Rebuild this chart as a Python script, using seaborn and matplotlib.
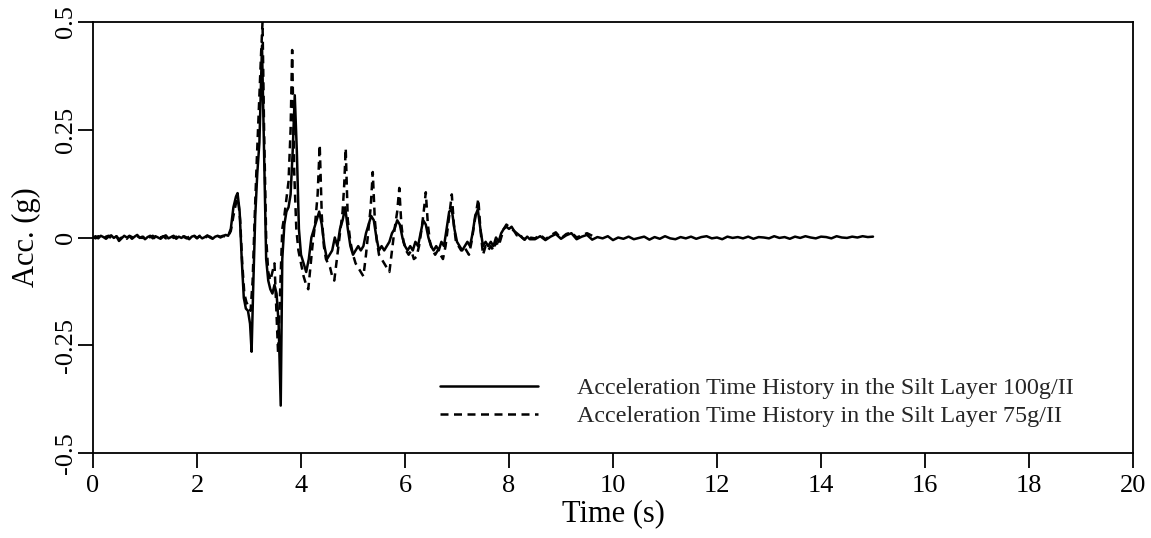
import numpy as np
import pandas as pd
import matplotlib
matplotlib.use("Agg")
import matplotlib.pyplot as plt
import seaborn as sns

# ---------------- data ----------------
series_labels = ["Acceleration Time History in the Silt Layer 100g/II",
                 "Acceleration Time History in the Silt Layer 75g/II"]
x_ticks = [0, 2, 4, 6, 8, 10, 12, 14, 16, 18, 20]
y_ticks = [-0.5, -0.25, 0, 0.25, 0.5]
y_tick_labels = ["-0.5", "-0.25", "0", "0.25", "0.5"]

# pre-event record, sampled every 0.05 s from 0.00 to 2.55 s
pre_t = np.round(np.arange(0, 2.56, 0.05), 2)
pre_solid = [0.000, 0.003, -0.002, 0.004, 0.001, -0.003, 0.002, 0.005, -0.001, 0.003,
             -0.008, -0.002, 0.004, 0.000, 0.003, -0.003, 0.002, 0.006, -0.001, 0.002,
             -0.004, 0.001, 0.004, -0.002, 0.003, 0.000, -0.003, 0.002, 0.005, -0.002,
             0.001, 0.004, -0.003, 0.002, -0.001, 0.003, 0.000, -0.004, 0.002, 0.004,
             -0.001, 0.003, -0.002, 0.001, 0.005, 0.000, -0.003, 0.002, 0.004, 0.000,
             0.003, 0.006]
pre_dash = [0.001, -0.002, 0.003, 0.000, -0.003, 0.002, 0.004, -0.002, 0.001, 0.003,
            -0.004, 0.000, 0.002, -0.003, 0.004, 0.001, -0.002, 0.003, 0.000, -0.001,
            0.003, -0.002, 0.001, 0.004, -0.003, 0.002, 0.000, 0.003, -0.002, 0.001,
            0.004, -0.001, 0.002, -0.003, 0.003, 0.001, -0.002, 0.002, 0.000, 0.003,
            -0.002, 0.004, 0.001, -0.001, 0.003, 0.002, -0.002, 0.001, 0.003, 0.002,
            0.004, 0.002]

# strong-motion part, 100g/II (solid)
ev_solid_t = [2.60, 2.65, 2.70, 2.75, 2.78, 2.82, 2.86, 2.90, 2.94, 2.98,
              3.02, 3.05, 3.08, 3.12, 3.16, 3.20, 3.25, 3.29, 3.33, 3.37,
              3.41, 3.45, 3.49, 3.53, 3.57, 3.61, 3.64, 3.68, 3.72, 3.76,
              3.80, 3.84, 3.88, 3.92, 3.96, 4.00, 4.05, 4.10, 4.15, 4.20,
              4.25, 4.30, 4.35, 4.40, 4.45, 4.50, 4.55, 4.60, 4.65, 4.70,
              4.75, 4.80, 4.85, 4.90, 4.95, 5.00, 5.05, 5.10, 5.15, 5.20,
              5.25, 5.30, 5.35, 5.40, 5.45, 5.50, 5.55, 5.60, 5.65, 5.70,
              5.75, 5.80, 5.85, 5.90, 5.95, 6.00, 6.05, 6.10, 6.15, 6.20,
              6.25, 6.30, 6.35, 6.40, 6.45, 6.50, 6.55, 6.60, 6.65, 6.70,
              6.75, 6.80, 6.85, 6.90, 6.95, 7.00, 7.05, 7.10, 7.15, 7.20,
              7.25, 7.30, 7.35, 7.40, 7.45, 7.50, 7.55, 7.60, 7.65, 7.70,
              7.75, 7.80, 7.85, 7.90, 7.95, 8.00, 8.05, 8.10, 8.15, 8.20,
              8.25, 8.30, 8.35, 8.40]
ev_solid_a = [0.004, 0.02, 0.07, 0.095, 0.103, 0.06, -0.05, -0.14, -0.165, -0.17,
              -0.20, -0.265, -0.12, 0.05, 0.15, 0.22, 0.445, 0.20, -0.05, -0.10,
              -0.12, -0.13, -0.11, -0.13, -0.20, -0.39, -0.05, 0.03, 0.06, 0.07,
              0.10, 0.20, 0.33, 0.20, 0.02, -0.04, -0.06, -0.08, -0.05, 0.00,
              0.02, 0.04, 0.06, 0.03, -0.02, -0.05, -0.04, -0.03, 0.00, -0.02,
              0.02, 0.04, 0.07, 0.02, -0.02, -0.04, -0.03, -0.02, -0.03, -0.02,
              0.01, 0.03, 0.05, 0.04, 0.00, -0.03, -0.02, -0.03, -0.02, -0.01,
              0.01, 0.02, 0.04, 0.03, 0.00, -0.02, -0.03, -0.02, -0.03, -0.01,
              -0.02, 0.01, 0.04, 0.03, 0.00, -0.02, -0.03, -0.02, -0.03, -0.01,
              -0.02, 0.02, 0.06, 0.065, 0.02, -0.01, -0.02, -0.03, -0.02, -0.01,
              -0.02, 0.01, 0.05, 0.065, 0.02, -0.02, -0.01, -0.02, -0.01, -0.02,
              0.00, -0.01, 0.01, 0.02, 0.025, 0.02, 0.025, 0.015, 0.01, 0.005,
              0.00, -0.005, 0.002, -0.004]

# strong-motion part, 75g/II (dashed)
ev_dash_t = [2.60, 2.65, 2.70, 2.75, 2.79, 2.83, 2.87, 2.91, 2.95, 2.99,
             3.03, 3.07, 3.11, 3.15, 3.19, 3.23, 3.26, 3.29, 3.33, 3.37,
             3.41, 3.45, 3.49, 3.53, 3.56, 3.60, 3.64, 3.68, 3.72, 3.76,
             3.80, 3.83, 3.87, 3.91, 3.95, 4.00, 4.05, 4.10, 4.14, 4.18,
             4.22, 4.27, 4.32, 4.36, 4.40, 4.44, 4.48, 4.52, 4.56, 4.60,
             4.64, 4.68, 4.72, 4.76, 4.80, 4.83, 4.86, 4.90, 4.95, 5.00,
             5.05, 5.10, 5.15, 5.20, 5.25, 5.30, 5.34, 5.38, 5.42, 5.46,
             5.50, 5.55, 5.60, 5.65, 5.70, 5.75, 5.80, 5.85, 5.89, 5.93,
             5.97, 6.02, 6.07, 6.12, 6.17, 6.22, 6.27, 6.32, 6.36, 6.40,
             6.44, 6.48, 6.53, 6.58, 6.63, 6.68, 6.73, 6.78, 6.83, 6.87,
             6.90, 6.94, 6.98, 7.03, 7.08, 7.13, 7.18, 7.23, 7.28, 7.33,
             7.37, 7.41, 7.45, 7.50, 7.55, 7.60, 7.65, 7.70, 7.75, 7.80,
             7.85, 7.90, 7.95, 8.00, 8.05, 8.10, 8.15, 8.20, 8.25, 8.30,
             8.35, 8.40]
ev_dash_a = [0.003, 0.015, 0.05, 0.08, 0.09, 0.04, -0.06, -0.13, -0.15, -0.16,
             -0.17, -0.10, 0.05, 0.18, 0.30, 0.42, 0.50, 0.25, 0.00, -0.08,
             -0.10, -0.08, -0.06, -0.18, -0.27, -0.12, 0.02, 0.05, 0.09, 0.13,
             0.25, 0.435, 0.15, 0.02, -0.03, -0.06, -0.09, -0.11, -0.12, -0.07,
             -0.02, 0.03, 0.10, 0.215, 0.05, -0.02, -0.05, -0.06, -0.07, -0.09,
             -0.10, -0.06, -0.02, 0.02, 0.06, 0.12, 0.207, 0.04, -0.01, -0.04,
             -0.06, -0.07, -0.08, -0.09, -0.04, 0.02, 0.07, 0.152, 0.04, -0.01,
             -0.04, -0.05, -0.06, -0.07, -0.08, -0.03, 0.02, 0.06, 0.115, 0.03,
             -0.01, -0.03, -0.04, -0.03, -0.05, -0.045, -0.02, 0.02, 0.06, 0.105,
             0.03, -0.01, -0.03, -0.04, -0.03, -0.04, -0.05, -0.02, 0.03, 0.07,
             0.10, 0.03, -0.01, -0.02, -0.03, -0.02, -0.03, -0.04, -0.01, 0.03,
             0.06, 0.09, 0.02, -0.04, -0.02, -0.03, -0.02, -0.03, -0.01, -0.02,
             0.00, 0.02, 0.03, 0.025, 0.02, 0.015, 0.005, 0.01, 0.00, -0.005,
             0.004, 0.000]

# post-event record, every 0.1 s
post_solid_t = np.round(np.arange(8.5, 15.01, 0.1), 2)
post_solid = [-0.004, 0.003, -0.006, 0.002, 0.008, -0.003, 0.005, 0.010, -0.004, 0.002,
              0.006, -0.005, 0.001, -0.002, 0.003, -0.006, 0.000, -0.003, 0.002, -0.004,
              -0.001, 0.002, -0.005, 0.001, -0.003, 0.003, -0.002, -0.004, 0.001, -0.002,
              0.002, -0.003, 0.001, 0.003, -0.002, 0.000, -0.004, 0.002, -0.001, 0.001,
              -0.002, 0.002, -0.003, 0.001, 0.000, -0.002, 0.003, -0.001, 0.001, -0.003,
              0.002, -0.001, 0.003, 0.000, -0.002, 0.002, 0.001, -0.002, 0.003, 0.000,
              -0.001, 0.002, 0.000, 0.003, 0.001, 0.002]
post_dash_t = np.round(np.arange(8.5, 9.61, 0.1), 2)
post_dash = [-0.002, 0.006, -0.004, 0.005, 0.012, -0.002, 0.008, 0.012, 0.000, 0.005,
             0.010, 0.004]

# ---------------- assemble ----------------
df_solid = pd.DataFrame({
    "t": np.concatenate([pre_t, ev_solid_t, post_solid_t]),
    "a": np.concatenate([pre_solid, ev_solid_a, post_solid]),
})
df_dash = pd.DataFrame({
    "t": np.concatenate([pre_t, ev_dash_t, post_dash_t]),
    "a": np.concatenate([pre_dash, ev_dash_a, post_dash]),
})

sns.set_theme(style="ticks")
plt.rcParams["font.family"] = ["Liberation Serif", "DejaVu Serif"]

fig = plt.figure(figsize=(11.51, 5.38), dpi=100)
ax = fig.add_axes([93 / 1151, 1 - 453 / 538, 1040 / 1151, 431 / 538])

DASH = (3.2, 2.2)
sns.lineplot(data=df_dash, x="t", y="a", ax=ax, sort=False, color="black",
             linewidth=1.8, label=series_labels[1], estimator=None)
ax.lines[-1].set_dashes(DASH)
sns.lineplot(data=df_solid, x="t", y="a", ax=ax, sort=False, color="black",
             linewidth=1.8, label=series_labels[0], estimator=None)

ax.set_xlim(0, 20)
ax.set_ylim(-0.5, 0.5)
ax.set_xticks(x_ticks)
ax.set_xticklabels([str(v) for v in x_ticks])
ax.set_yticks(y_ticks)
ax.set_yticklabels(y_tick_labels, rotation=90, va="center")
ax.tick_params(axis="both", direction="out", length=10.5, width=1.3,
               labelsize=19, color="black", labelcolor="black")
ax.tick_params(axis="x", pad=5)
ax.tick_params(axis="y", pad=1)
for s in ax.spines.values():
    s.set_visible(True)
    s.set_linewidth(1.3)
    s.set_color("black")

ax.set_xlabel("Time (s)", fontsize=22, color="black", labelpad=2)
ax.set_ylabel("Acc. (g)", fontsize=22, color="black", labelpad=10)

handles, labels = ax.get_legend_handles_labels()
order = [1, 0]
leg = ax.legend([handles[i] for i in order], [labels[i] for i in order],
                loc="upper left", bbox_to_anchor=(0.334, 0.176), frameon=False,
                fontsize=17.4, handlelength=4.05, handletextpad=1.62,
                labelspacing=0.25, borderaxespad=0, borderpad=0)
leg.get_lines()[1].set_dashes(DASH)

fig.savefig("out.png", dpi=100)
